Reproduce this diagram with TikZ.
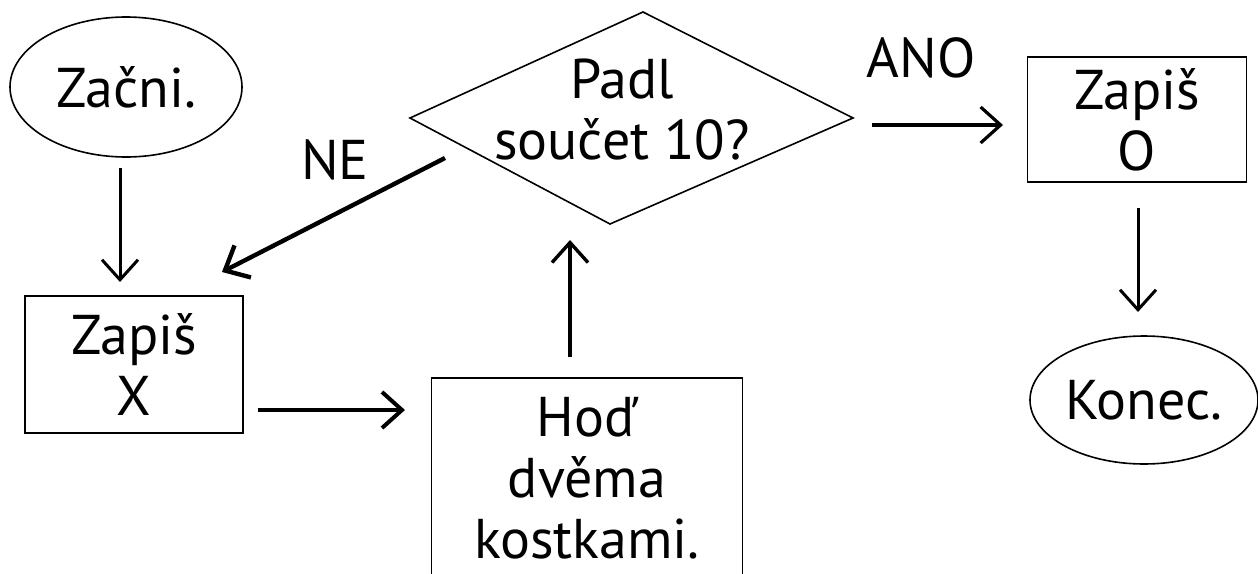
\documentclass[tikz,border=0pt]{standalone}
\usepackage{fontspec}
\setmainfont{PT Sans}
\usetikzlibrary{shapes.geometric,arrows.meta}
\begin{document}
\begin{tikzpicture}[x=0.5pt,y=-0.5pt,
  every node/.style={font=\fontsize{28}{30.5}\selectfont, align=center, inner sep=0pt},
  oval/.style={draw, ellipse, line width=0.8pt},
  boxnode/.style={draw, rectangle, line width=0.85pt},
  arr/.style={line width=1.5pt, -{Straight Barb[length=10pt,width=18pt]}}
]
\useasboundingbox (0,0) rectangle (1258,573);
% nodes
\node[oval, minimum width=116pt, minimum height=70pt] (zacni) at (126,87) {Začni.};
\node[boxnode, minimum width=109pt, minimum height=68.5pt] (zapisX) at (134,364.5) {Zapiš\\X};
\node[boxnode, minimum width=155.5pt, minimum height=106pt] (hod) at (587,484) {};
\node (hodtext) at (587,478) {Hoď\\dvěma\\kostkami.};
\coordinate (dl) at (410,118);
\coordinate (dt) at (643,12);
\coordinate (dr) at (853,118);
\coordinate (db) at (610,224);
\draw[line width=0.8pt] (dl) -- (dt) -- (dr) -- (db) -- cycle;
\node (padl) at (622,110) {Padl\\součet 10?};
\node[boxnode, minimum width=109.5pt, minimum height=62.5pt] (zapisO) at (1137,119.5) {Zapiš\\O};
\node[oval, minimum width=114pt, minimum height=64pt] (konec) at (1144,400) {Konec.};
\node (ne) at (335,160) {NE};
\node (ano) at (921,58) {ANO};
% arrow ends
\coordinate (a1s) at (120,168); \coordinate (a1e) at (120,282);
\coordinate (a2s) at (258,410); \coordinate (a2e) at (405,410);
\coordinate (a3s) at (570,357); \coordinate (a3e) at (570,240);
\coordinate (a4s) at (445,158); \coordinate (a4e) at (222,272);
\coordinate (a5s) at (872,125); \coordinate (a5e) at (1003,125);
\coordinate (a6s) at (1138,208); \coordinate (a6e) at (1138,312);
% connectors
\draw[arr] (a1s) -- (a1e);
\draw[arr, line width=2pt] (a2s) -- (a2e);
\draw[arr, line width=1.7pt] (a3s) -- (a3e);
\draw[arr, line width=2.2pt] (a4s) -- (a4e);
\draw[arr, line width=1.6pt] (a5s) -- (a5e);
\draw[arr] (a6s) -- (a6e);
\end{tikzpicture}
\end{document}
